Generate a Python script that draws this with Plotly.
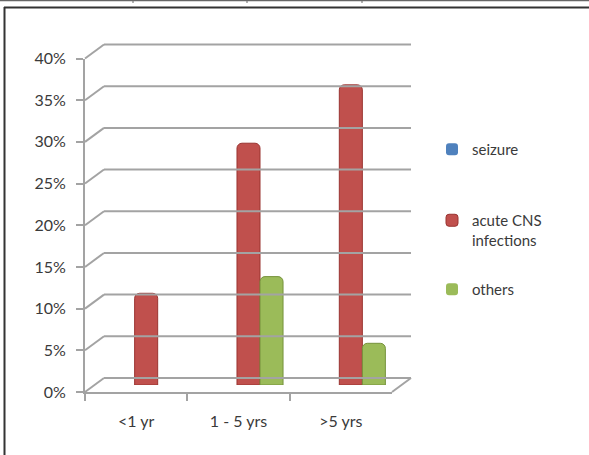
import plotly.graph_objects as go

# ---- data ----
categories = ["<1 yr", "1 - 5 yrs", ">5 yrs"]
seizure = [0.0, 0.0, 0.0]
acute_cns = [0.11, 0.29, 0.36]
others = [0.0, 0.13, 0.05]
y_ticks = [0, 0.05, 0.10, 0.15, 0.20, 0.25, 0.30, 0.35, 0.40]

W, H = 589, 455
FONT = "Lato"
GRID = "#a3a3a3"
TXT = "#3a3a3a"

def px_x(a, b):
    return [a / W, b / W]

def px_y(bottom, top):
    return [1 - bottom / H, 1 - top / H]

def edge_widths(vals, w):
    return [0 if v == 0 else w for v in vals]

# front plane (axis labels), middle (bars), back wall (gridlines)
FX0, FX1, FY0, FY1 = 85, 392, 392, 58.5
DX_MID, DY_MID = 10, 7
DX_BACK, DY_BACK = 19, 14

yr = [0, 0.40]
xr = [-0.5, 2.5]
CAT_PX = (FX1 - FX0) / (xr[1] - xr[0])
VAL_PX = (FY0 - FY1) / (yr[1] - yr[0])
# full-figure frame axes with the front-plane scale (for the 3-D frame lines)
x4_range = [xr[0] - FX0 / CAT_PX, xr[1] + (W - FX1) / CAT_PX]
y4_range = [yr[0] - (H - FY0) / VAL_PX, yr[1] + FY1 / VAL_PX]
ddx = DX_BACK / CAT_PX
ddy = DY_BACK / VAL_PX

fig = go.Figure()

fig.add_trace(go.Bar(name="seizure", x=categories, y=seizure,
                     marker=dict(color="#4F81BD", line=dict(width=0)),
                     xaxis="x2", yaxis="y2", legend="legend"))
fig.add_trace(go.Bar(name="acute CNS<br>infections", x=categories, y=acute_cns,
                     marker=dict(color="#C0504D",
                                 line=dict(color="#9A3431", width=edge_widths(acute_cns, 1))),
                     xaxis="x2", yaxis="y2", legend="legend2"))
fig.add_trace(go.Bar(name="others", x=categories, y=others,
                     marker=dict(color="#9BBB59",
                                 line=dict(color="#76923C", width=edge_widths(others, 1))),
                     xaxis="x2", yaxis="y2", legend="legend3"))

# invisible traces so the helper axes exist
fig.add_trace(go.Scatter(x=categories, y=[None] * 3, xaxis="x", yaxis="y",
                         showlegend=False, hoverinfo="skip"))
fig.add_trace(go.Scatter(x=[0], y=[None], xaxis="x4", yaxis="y4",
                         showlegend=False, hoverinfo="skip"))

def leg(top_px):
    return dict(x=432 / W, y=1 - top_px / H, xanchor="left", yanchor="top",
                font=dict(family=FONT, size=15, color=TXT), valign="top",
                bgcolor="rgba(0,0,0,0)", borderwidth=0)

fig.update_layout(
    width=W, height=H,
    margin=dict(l=0, r=0, t=0, b=0, pad=0, autoexpand=False),
    paper_bgcolor="white", plot_bgcolor="rgba(0,0,0,0)",
    font=dict(family=FONT, size=15, color=TXT),
    barmode="group", bargap=0.325, bargroupgap=0,
    barcornerradius=5,
    showlegend=True,
    legend=leg(133), legend2=leg(204), legend3=leg(273),
    # front axes
    xaxis=dict(domain=px_x(FX0, FX1), range=xr, type="category",
               categoryorder="array", categoryarray=categories,
               anchor="y", showgrid=False, zeroline=False,
               showline=True, linecolor=GRID, linewidth=2,
               ticks="outside", tickson="boundaries", ticklen=7,
               tickcolor=GRID, tickwidth=1.5, ticklabelstandoff=14,
               tickfont=dict(family=FONT, size=16, color=TXT), fixedrange=True,
               automargin=False),
    yaxis=dict(domain=px_y(FY0, FY1), range=yr, anchor="x",
               tickvals=y_ticks, tickformat=".0%",
               showgrid=False, zeroline=False,
               showline=True, linecolor=GRID, linewidth=2,
               ticks="outside", ticklen=7, tickcolor=GRID, tickwidth=1.5,
               ticklabelstandoff=7,
               tickfont=dict(family=FONT, size=16, color=TXT), fixedrange=True,
               automargin=False),
    # middle depth (bars)
    xaxis2=dict(domain=px_x(FX0 + DX_MID, FX1 + DX_MID), range=xr, type="category",
                categoryorder="array", categoryarray=categories,
                anchor="y2", visible=False, fixedrange=True, automargin=False),
    yaxis2=dict(domain=px_y(FY0 - DY_MID, FY1 - DY_MID), range=yr, anchor="x2",
                visible=False, fixedrange=True, automargin=False),
    # full-figure helper axes carrying the 3-D frame
    xaxis4=dict(domain=[0, 1], range=x4_range, type="linear", anchor="y4",
                visible=False, fixedrange=True, automargin=False),
    yaxis4=dict(domain=[0, 1], range=y4_range, anchor="x4",
                visible=False, fixedrange=True, automargin=False),
)

shapes = []
for v in y_ticks:
    # back wall gridline at each value tick
    shapes.append(dict(type="line", xref="x4", yref="y4",
                       x0=xr[0] + ddx, x1=xr[1] + ddx, y0=v + ddy, y1=v + ddy,
                       line=dict(color=GRID, width=2), layer="below"))
    # side-wall diagonal from the front value tick to the back wall
    shapes.append(dict(type="line", xref="x4", yref="y4",
                       x0=xr[0], x1=xr[0] + ddx, y0=v, y1=v + ddy,
                       line=dict(color=GRID, width=2), layer="below"))
# right floor edge
shapes.append(dict(type="line", xref="x4", yref="y4",
                   x0=xr[1], x1=xr[1] + ddx, y0=yr[0], y1=yr[0] + ddy,
                   line=dict(color=GRID, width=2), layer="below"))

# frame of the chart box and top table strip (decoration)
shapes.append(dict(type="line", xref="paper", yref="paper",
                   x0=4.5 / W, x1=4.5 / W, y0=1 - 7 / H, y1=0,
                   line=dict(color="#333333", width=2)))
shapes.append(dict(type="line", xref="paper", yref="paper",
                   x0=4 / W, x1=1, y0=1 - 7.5 / H, y1=1 - 7.5 / H,
                   line=dict(color="#333333", width=2)))
shapes.append(dict(type="line", xref="paper", yref="paper",
                   x0=0, x1=1, y0=1 - 0.5 / H, y1=1 - 0.5 / H,
                   line=dict(color="#666666", width=1.5)))
for sx in [133, 247, 362]:
    shapes.append(dict(type="line", xref="paper", yref="paper",
                       x0=sx / W, x1=sx / W, y0=1, y1=1 - 3 / H,
                       line=dict(color="#666666", width=1)))

fig.update_layout(shapes=shapes)

fig.write_html("out.html")
